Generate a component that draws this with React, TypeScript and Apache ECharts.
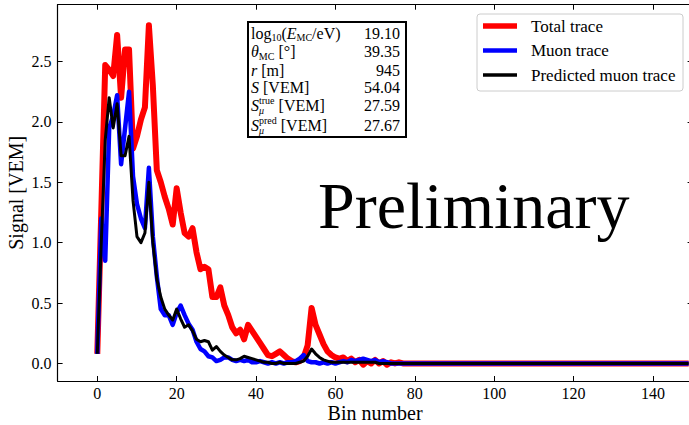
import React, { useEffect, useRef } from "react";
import * as echarts from "echarts";

// Signal per bin [VEM], bins 0..149
const totalTrace = [
  0.08, 1.25, 2.47, 2.43, 2.38, 2.72, 2.2, 2.6, 2.6, 1.78,
  1.88, 2.02, 2.12, 2.8, 2.3, 1.6, 1.5, 1.38, 1.28, 1.15,
  1.45, 1.25, 1.08, 1.05, 1.12, 0.92, 0.78, 0.8, 0.78, 0.55,
  0.55, 0.63, 0.48, 0.4, 0.3, 0.25, 0.28, 0.2, 0.32, 0.27,
  0.22, 0.17, 0.12, 0.07, 0.06, 0.08, 0.1, 0.07, 0.04, 0.02,
  0.01, 0.02, 0.05, 0.15, 0.46, 0.32, 0.24, 0.16, 0.1, 0.07,
  0.05, 0.04, 0.05, 0.02, 0.04, 0.01, 0.03, -0.01, 0.02, 0.0,
  0.03, 0.0, 0.02, -0.01, 0.01, 0.0, 0.01, 0, 0, 0,
  0, 0, 0, 0, 0, 0, 0, 0, 0, 0,
  0, 0, 0, 0, 0, 0, 0, 0, 0, 0,
  0, 0, 0, 0, 0, 0, 0, 0, 0, 0,
  0, 0, 0, 0, 0, 0, 0, 0, 0, 0,
  0, 0, 0, 0, 0, 0, 0, 0, 0, 0,
  0, 0, 0, 0, 0, 0, 0, 0, 0, 0,
  0, 0, 0, 0, 0, 0, 0, 0, 0, 0,
];

const muonTrace = [
  0.08, 1.2, 0.85, 1.95, 2.05, 2.22, 1.65, 1.95, 2.25, 1.55,
  1.32, 1.2, 1.12, 1.62, 1.05, 0.72, 0.45, 0.4, 0.4, 0.32,
  0.42, 0.48, 0.4, 0.33, 0.28, 0.18, 0.12, 0.1, 0.06, 0.05,
  0.02, 0.03, 0.05, 0.05, 0.03, 0.02, 0.03, 0.02, 0.03, 0.01,
  0.01, 0.02, 0.01, 0.0, 0.01, 0.0, 0.01, 0.0, 0.01, 0.01,
  0.02, 0.04, 0.07, 0.02, 0.01, 0.01, 0.0, 0.01, 0.0, 0.01,
  0.0, 0.01, 0.02, 0.01, 0.03, 0.02, 0.03, 0.04, 0.03, 0.02,
  0.03, 0.01, 0.02, 0.01, 0.0, 0, 0, 0, 0, 0,
  0, 0, 0, 0, 0, 0, 0, 0, 0, 0,
  0, 0, 0, 0, 0, 0, 0, 0, 0, 0,
  0, 0, 0, 0, 0, 0, 0, 0, 0, 0,
  0, 0, 0, 0, 0, 0, 0, 0, 0, 0,
  0, 0, 0, 0, 0, 0, 0, 0, 0, 0,
  0, 0, 0, 0, 0, 0, 0, 0, 0, 0,
  0, 0, 0, 0, 0, 0, 0, 0, 0, 0,
];

const predictedMuonTrace = [
  0.08, 1.0, 1.85, 2.2, 1.95, 2.15, 1.72, 1.72, 1.88, 1.35,
  1.05, 1.0, 1.08, 1.5, 1.0, 0.7, 0.55, 0.45, 0.4, 0.36,
  0.45, 0.37, 0.3, 0.32, 0.27, 0.2, 0.18, 0.19, 0.18, 0.11,
  0.14, 0.1, 0.07, 0.05, 0.03, 0.03, 0.04, 0.06, 0.05, 0.04,
  0.03, 0.02, 0.01, 0.01, 0.0, 0.0, 0.01, 0.0, 0.0, 0.0,
  0.0, 0.01, 0.02, 0.06, 0.12, 0.08, 0.05, 0.03, 0.02, 0.01,
  0.01, 0.01, 0.01, 0.01, 0.01, 0.01, 0.01, 0.01, 0.01, 0.01,
  0.01, 0, 0, 0, 0, 0, 0, 0, 0, 0,
  0, 0, 0, 0, 0, 0, 0, 0, 0, 0,
  0, 0, 0, 0, 0, 0, 0, 0, 0, 0,
  0, 0, 0, 0, 0, 0, 0, 0, 0, 0,
  0, 0, 0, 0, 0, 0, 0, 0, 0, 0,
  0, 0, 0, 0, 0, 0, 0, 0, 0, 0,
  0, 0, 0, 0, 0, 0, 0, 0, 0, 0,
  0, 0, 0, 0, 0, 0, 0, 0, 0, 0,
];

const seriesNames = ["Total trace", "Muon trace", "Predicted muon trace"];
const xTickValues = [0, 20, 40, 60, 80, 100, 120, 140];
const yTickValues = [0, 0.5, 1.0, 1.5, 2.0, 2.5];
const infoValues = ["19.10", "39.35", "945", "54.04", "27.59", "27.67"];

type Piece = { t: string; k: "n" | "i" | "sub" | "subi" | "sup" } | { stack: { t: string; k: "sup" | "subi" | "sub" }[] };
const infoLabels: Piece[][] = [
  [{ t: "log", k: "n" }, { t: "10", k: "sub" }, { t: "(", k: "n" }, { t: "E", k: "i" }, { t: "MC", k: "sub" }, { t: "/eV)", k: "n" }],
  [{ t: "θ", k: "i" }, { t: "MC", k: "sub" }, { t: " [°]", k: "n" }],
  [{ t: "r", k: "i" }, { t: " [m]", k: "n" }],
  [{ t: "S", k: "i" }, { t: " [VEM]", k: "n" }],
  [{ t: "S", k: "i" }, { stack: [{ t: "true", k: "sup" }, { t: "μ", k: "subi" }] }, { t: " [VEM]", k: "n" }],
  [{ t: "S", k: "i" }, { stack: [{ t: "pred", k: "sup" }, { t: "μ", k: "subi" }] }, { t: " [VEM]", k: "n" }],
];

const FONT = "Liberation Serif";

export default function App() {
  const ref = useRef<HTMLDivElement>(null);
  useEffect(() => {
    if (!ref.current) return;
    const chart = echarts.init(ref.current, undefined, { renderer: "svg" });

    const canvas = document.createElement("canvas");
    const ctx = canvas.getContext("2d")!;
    const MAIN = 16;
    const SMALL = 10;
    const measure = (t: string, size: number, italic: boolean) => {
      ctx.font = `${italic ? "italic " : ""}${size}px "${FONT}"`;
      return ctx.measureText(t).width;
    };
    const textEl = (t: string, k: string, x: number, y: number) => {
      const small = k === "sub" || k === "subi" || k === "sup";
      const italic = k === "i" || k === "subi";
      const dy = k === "sub" || k === "subi" ? 4.5 : k === "sup" ? -5.5 : 0;
      return {
        type: "text",
        x,
        y: y + dy,
        silent: true,
        style: {
          text: t,
          fontSize: small ? SMALL : MAIN,
          fontFamily: FONT,
          fontStyle: italic ? "italic" : "normal",
          fill: "#000",
          align: "left",
          verticalAlign: "middle",
        },
      };
    };

    const rowY = [33, 51.5, 70, 87, 105.5, 125.5];
    const infoEls: any[] = [];
    infoLabels.forEach((row, ri) => {
      let x = 251;
      const y = rowY[ri];
      row.forEach((p: any) => {
        if (p.stack) {
          let w = 0;
          p.stack.forEach((s: any) => {
            infoEls.push(textEl(s.t, s.k, x, y));
            w = Math.max(w, measure(s.t, SMALL, s.k === "subi"));
          });
          x += w;
        } else {
          infoEls.push(textEl(p.t, p.k, x, y));
          const sm = p.k === "sub" || p.k === "subi" || p.k === "sup";
          x += measure(p.t, sm ? SMALL : MAIN, p.k === "i" || p.k === "subi");
        }
      });
      infoEls.push({
        type: "text",
        x: 400,
        y,
        silent: true,
        style: { text: infoValues[ri], fontSize: MAIN, fontFamily: FONT, fill: "#000", align: "right", verticalAlign: "middle" },
      });
    });

    const colors = ["#ff0000", "#0000ff", "#000000"];
    const widths = [6, 4.5, 3];
    const legendWidths = [5.5, 4.5, 3.5];
    const legendY = [26, 50.5, 75];
    const legendEls: any[] = [
      {
        type: "rect",
        shape: { x: 477, y: 14, width: 206, height: 77, r: 3 },
        style: { fill: "rgba(255,255,255,0.85)", stroke: "#cccccc", lineWidth: 1 },
        silent: true,
      },
    ];
    seriesNames.forEach((n, i) => {
      legendEls.push({
        type: "line",
        shape: { x1: 483, y1: legendY[i], x2: 517, y2: legendY[i] },
        style: { stroke: colors[i], lineWidth: legendWidths[i] },
        silent: true,
      });
      legendEls.push({
        type: "text",
        x: 531,
        y: legendY[i],
        silent: true,
        style: { text: n, fontSize: 17, fontFamily: FONT, fill: "#000", align: "left", verticalAlign: "middle" },
      });
    });

    const traces = [totalTrace, muonTrace, predictedMuonTrace];
    const axisCommon = {
      axisLine: { show: true, onZero: false, lineStyle: { color: "#000", width: 1.2 } },
      splitLine: { show: false },
    };

    chart.setOption({
      animation: false,
      backgroundColor: "#ffffff",
      textStyle: { fontFamily: FONT },
      grid: { left: 57.6, top: 4.7, width: 635, height: 376.3, containLabel: false, outerBoundsMode: "none" },
      xAxis: [
        {
          type: "value",
          min: -10,
          max: 150,
          position: "bottom",
          ...axisCommon,
          axisTick: { show: true, inside: true, length: 5, lineStyle: { color: "#000", width: 1 }, customValues: xTickValues },
          axisLabel: { show: true, margin: 4, fontSize: 16, color: "#000", fontFamily: FONT, customValues: xTickValues },
          name: "Bin number",
          nameLocation: "middle",
          nameGap: 22,
          nameMoveOverlap: false,
          nameTextStyle: { fontSize: 20, color: "#000", fontFamily: FONT, lineHeight: 20 },
        },
        {
          type: "value",
          min: -10,
          max: 150,
          position: "top",
          ...axisCommon,
          axisTick: { show: true, inside: true, length: 5, lineStyle: { color: "#000", width: 1 }, customValues: xTickValues },
          axisLabel: { show: false, customValues: xTickValues },
        },
      ],
      yAxis: [
        {
          type: "value",
          min: -0.145,
          max: 2.97,
          position: "left",
          ...axisCommon,
          axisTick: { show: true, inside: true, length: 5, lineStyle: { color: "#000", width: 1 }, customValues: yTickValues },
          axisLabel: {
            show: true,
            margin: 6,
            fontSize: 16,
            color: "#000",
            fontFamily: FONT,
            customValues: yTickValues,
            formatter: (v: number) => v.toFixed(1),
          },
          name: "Signal [VEM]",
          nameLocation: "middle",
          nameGap: 32,
          nameMoveOverlap: false,
          nameTextStyle: { fontSize: 20, color: "#000", fontFamily: FONT },
        },
        {
          type: "value",
          min: -0.145,
          max: 2.97,
          position: "right",
          ...axisCommon,
          axisTick: { show: true, inside: true, length: 5, lineStyle: { color: "#000", width: 1 }, customValues: yTickValues },
          axisLabel: { show: false, customValues: yTickValues },
        },
      ],
      series: traces.map((arr, i) => ({
        type: "line",
        name: seriesNames[i],
        xAxisIndex: 0,
        yAxisIndex: 0,
        data: arr.map((v, b) => [b, v]),
        showSymbol: false,
        symbol: "none",
        clip: true,
        z: 2 + i,
        lineStyle: { color: colors[i], width: widths[i], join: "round", cap: "butt" },
      })),
      graphic: [
        {
          type: "text",
          x: 318,
          y: 205,
          silent: true,
          style: { text: "Preliminary", fontSize: 66, fontFamily: FONT, fill: "#000", align: "left", verticalAlign: "middle" },
        },
        {
          type: "rect",
          shape: { x: 248, y: 22, width: 158, height: 115 },
          style: { fill: "#ffffff", stroke: "#000", lineWidth: 2 },
          silent: true,
        },
        ...infoEls,
        ...legendEls,
      ],
    });
    return () => chart.dispose();
  }, []);
  return <div ref={ref} style={{ position: "absolute", left: 0, top: 0, width: 689, height: 425 }} />;
}
